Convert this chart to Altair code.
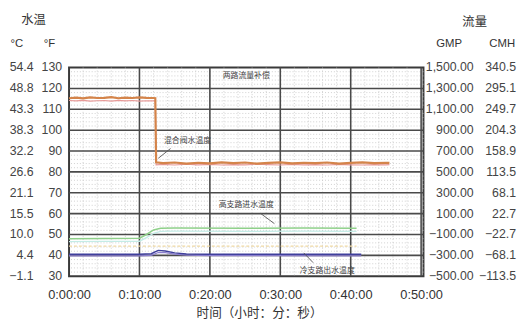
import altair as alt
import pandas as pd

# ---------------- data ----------------
time_ticks = [0, 600, 1200, 1800, 2400, 3000]
f_ticks = [130, 120, 110, 100, 90, 80, 70, 60, 50, 40, 30]
c_labels = ["54.4", "48.8", "43.3", "38.3", "32.2", "26.6", "21.1", "15.5", "10.0", "4.4", "\u22121.1"]
gpm_labels = ["1,500.00", "1,300.00", "1,100.00", "900.00", "700.00", "500.00", "300.00",
              "100.00", "\u2212100.00", "\u2212300.00", "\u2212500.00"]
cmh_labels = ["340.5", "295.1", "249.7", "204.3", "158.9", "113.5", "68.1", "22.7",
              "\u221222.7", "\u221268.1", "\u2212113.5"]

major_y = [40, 50, 60, 70, 80, 90, 100, 110, 120]
major_x = [600, 1200, 1800, 2400, 3000]
minor_y = [32, 34, 36, 38, 42, 44, 46, 48, 52, 54, 56, 58, 62, 64, 66, 68, 72, 74, 76, 78,
           82, 84, 86, 88, 92, 94, 96, 98, 102, 104, 106, 108, 112, 114, 116, 118, 122, 124, 126, 128]
minor_x = [120, 240, 360, 480, 720, 840, 960, 1080, 1320, 1440, 1560, 1680, 1920, 2040, 2160,
           2280, 2520, 2640, 2760, 2880]

# mixed water temperature (°F) – orange
orange_t = [0, 60, 120, 180, 240, 300, 360, 420, 480, 540, 600, 660, 720, 735, 742, 800, 900,
            1000, 1100, 1200, 1300, 1400, 1500, 1600, 1700, 1800, 1900, 2000, 2100, 2200, 2300,
            2400, 2500, 2600, 2700, 2730]
orange_v = [115.3, 115.6, 115.2, 115.7, 115.4, 115.5, 115.8, 115.3, 115.6, 115.4, 115.7, 115.5,
            115.4, 115.3, 84.6, 84.2, 84.5, 84.0, 84.4, 84.1, 84.6, 84.2, 84.5, 84.0, 84.3, 84.6,
            84.1, 84.4, 84.2, 84.5, 84.0, 84.3, 84.6, 84.2, 84.4, 84.3]
pink_v = [114.2, 114.0, 114.3, 113.9, 114.1, 114.2, 113.9, 114.3, 114.0, 114.2, 113.9, 114.1,
          114.0, 114.0, 83.4, 83.6, 83.3, 83.7, 83.4, 83.6, 83.3, 83.5, 83.4, 83.7, 83.5, 83.3,
          83.6, 83.4, 83.5, 83.3, 83.6, 83.4, 83.3, 83.5, 83.4, 83.5]

green_t = [0, 300, 600, 660, 720, 780, 900, 1500, 2000, 2450]
green_v = [48.0, 48.1, 48.2, 50.0, 52.2, 53.0, 53.1, 53.0, 53.1, 53.0]
cyan_v = [46.6, 46.7, 46.8, 48.5, 50.6, 51.5, 51.6, 51.5, 51.6, 51.5]

yellow_t = [0, 2450]
yellow_v = [44.4, 44.4]

blue_t = [0, 600, 700, 760, 820, 900, 1000, 1200, 2490]
blue_v = [40.5, 40.5, 40.8, 42.4, 42.1, 41.2, 40.7, 40.5, 40.5]
purple_v = [39.8, 39.8, 40.0, 41.4, 41.3, 40.6, 40.1, 39.9, 39.8]

notes_text = ["两路流量补偿", "混合阀水温度", "高支路进水温度", "冷支路出水温度"]
notes_t = [1510, 1010, 1510, 2200]
notes_v = [125.8, 95.0, 64.0, 32.4]

leader_t = [865, 1630, 2080]
leader_v = [91.2, 60.2, 36.5]
leader_t2 = [760, 1750, 2000]
leader_v2 = [86.5, 55.2, 41.2]

# ---------------- chart ----------------
W, H = 360, 212
xs = alt.Scale(domain=[0, 3020], nice=False, zero=False)
ys = alt.Scale(domain=[30, 130], nice=False, zero=False)
LABEL_FONT = "Liberation Sans"
CJK = "Noto Sans CJK SC"

xaxis = alt.Axis(values=time_ticks,
                 labelExpr="'0:' + (datum.value < 600 ? '0' : '') + format(datum.value/60, 'd') + ':00'",
                 grid=False, ticks=False, domain=False, labelFont=LABEL_FONT, labelFontSize=13,
                 labelColor="#333", labelPadding=13, labelFlush=False, labelOverlap=False,
                 title="时间（小时：分：秒）", titleFont=CJK, titleX=193, titleAlign="center",
                 titleFontSize=12.8, titleFontWeight="normal", titleColor="#333", titlePadding=5)


def X(f):
    return alt.X(f, type="quantitative", scale=xs, axis=xaxis)


def Y(f):
    return alt.Y(f, type="quantitative", scale=ys, axis=None)


layers = []

minor_h = alt.Chart(pd.DataFrame({"y": minor_y})).mark_rule(
    color="#c4c4c4", strokeWidth=0.8, strokeDash=[1, 2]).encode(y=Y("y"))
minor_v = alt.Chart(pd.DataFrame({"x": minor_x})).mark_rule(
    color="#c4c4c4", strokeWidth=0.8, strokeDash=[1, 2]).encode(x=X("x"))
major_h = alt.Chart(pd.DataFrame({"y": major_y})).mark_rule(
    color="#4a4a4a", strokeWidth=1.6).encode(y=Y("y"))
major_v = alt.Chart(pd.DataFrame({"x": major_x})).mark_rule(
    color="#4a4a4a", strokeWidth=1.6).encode(x=X("x"))
layers += [minor_h, minor_v, major_h, major_v]


def line(t, v, color, width=1.6, dash=None):
    kw = dict(color=color, strokeWidth=width)
    if dash:
        kw["strokeDash"] = dash
    return alt.Chart(pd.DataFrame({"t": t, "v": v})).mark_line(**kw).encode(x=X("t"), y=Y("v"))


layers += [
    line(green_t, cyan_v, "#c4ece6", 1.4),
    line(green_t, green_v, "#8fd08a", 1.6),
    line(yellow_t, yellow_v, "#efd9a4", 1.2, [3, 2]),
    line(blue_t, purple_v, "#8c7fcf", 1.2),
    line(blue_t, blue_v, "#3f3f9c", 1.5),
    line(orange_t, pink_v, "#e79a98", 1.2),
    line(orange_t, orange_v, "#d4844a", 2.2),
]

leaders = alt.Chart(pd.DataFrame({"t": leader_t, "v": leader_v, "t2": leader_t2, "v2": leader_v2})).mark_rule(
    color="#555", strokeWidth=0.9).encode(x=X("t"), y=Y("v"), x2="t2", y2="v2")
notes = alt.Chart(pd.DataFrame({"t": notes_t, "v": notes_v, "txt": notes_text})).mark_text(
    font=CJK, fontSize=8, color="#444", baseline="middle").encode(x=X("t"), y=Y("v"), text="txt")
layers += [leaders, notes]


def col(labels, xpos, align):
    df = pd.DataFrame({"v": f_ticks, "txt": labels})
    return alt.Chart(df).mark_text(font=LABEL_FONT, fontSize=12.5, color="#444", align=align,
                                   baseline="middle").encode(y=Y("v"), x=alt.value(xpos), text="txt")


layers += [
    col([str(v) for v in f_ticks], -7, "right"),
    col(c_labels, -36, "right"),
    col(gpm_labels, 411, "right"),
    col(cmh_labels, 454, "right"),
]

hdr_txt = ["水温", "°C", "°F", "流量", "GMP", "CMH"]
hdr_x = [-36, -53, -20, 412, 386, 440]
hdr_y = [-48, -24, -24, -46, -24, -24]
hdr_font = [CJK, LABEL_FONT, LABEL_FONT, CJK, LABEL_FONT, LABEL_FONT]
hdr_size = [12.5, 11.5, 11.5, 12.5, 11.5, 11.5]
for txt, hx, hy, fnt, fs in zip(hdr_txt, hdr_x, hdr_y, hdr_font, hdr_size):
    layers.append(alt.Chart(pd.DataFrame({"txt": [txt]})).mark_text(
        font=fnt, fontSize=fs, color="#333", align="center", baseline="middle").encode(
        x=alt.value(hx), y=alt.value(hy), text="txt"))

chart = alt.layer(*layers).properties(
    width=W, height=H,
    autosize=alt.AutoSizeParams(type="none"),
    padding={"left": 62, "top": 58, "right": 95, "bottom": 46},
    background="white",
).configure_view(stroke="#3a3a3a", strokeWidth=2)

chart.save("out.html", embed_options={"renderer": "svg", "actions": False})
